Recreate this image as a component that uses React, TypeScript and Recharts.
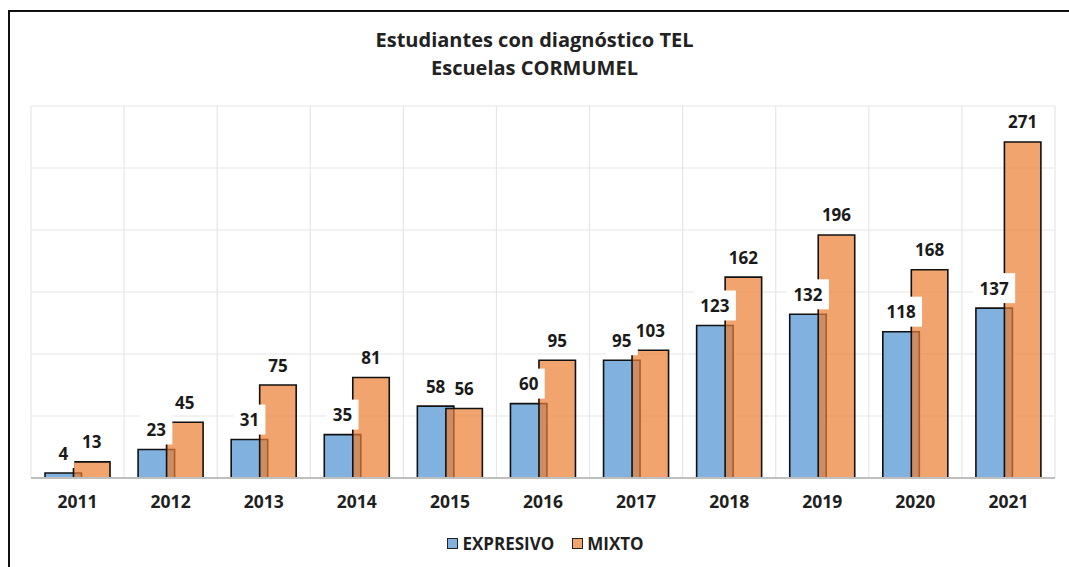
import { BarChart, Bar, XAxis, YAxis, CartesianGrid, LabelList } from 'recharts'

const years = ['2011', '2012', '2013', '2014', '2015', '2016', '2017', '2018', '2019', '2020', '2021']
const expresivo = [4, 23, 31, 35, 58, 60, 95, 123, 132, 118, 137]
const mixto = [13, 45, 75, 81, 56, 95, 103, 162, 196, 168, 271]
const yTicks = [0, 50, 100, 150, 200, 250, 300]
const gridTicks = [0, 1, 2, 3, 4, 5, 6, 7, 8, 9, 10, 11]

const seriesNames = { expresivo: 'EXPRESIVO', mixto: 'MIXTO' }
const BLUE = '#80B1DF'
const ORANGE = '#ED7D31'
const FONT = '"Open Sans", sans-serif'

const data = years.map((year, i) => ({ year, idx: i + 0.5, expresivo: expresivo[i], mixto: mixto[i] }))

// value label; the blue series gets a white box behind it (it sits over the orange bar)
function makeLabel(boxed: boolean) {
  return function ValueLabel(props: any) {
    const { x, y, width, value } = props
    const cx = x + width / 2
    const w = String(value).length * 10 + 12
    return (
      <g>
        {boxed && <rect x={cx - w / 2} y={y - 35} width={w} height={30} fill="#fff" />}
        <text x={cx} y={y - 20} textAnchor="middle" dominantBaseline="central" fontFamily={FONT} fontWeight={700} fontSize={17} fill="#1a1a1a">
          {value}
        </text>
      </g>
    )
  }
}
const BlueLabel = makeLabel(true)
const OrangeLabel = makeLabel(false)

function LegendBox({ color, opacity, label }: { color: string; opacity: number; label: string }) {
  return (
    <span style={{ display: 'inline-flex', alignItems: 'center', margin: '0 9px' }}>
      <span style={{ width: 9, height: 9, border: '1.5px solid #222', position: 'relative', marginRight: 4, background: '#fff' }}>
        <span style={{ position: 'absolute', inset: 0, background: color, opacity }} />
      </span>
      {label}
    </span>
  )
}

export default function App() {
  return (
    <div style={{ position: 'absolute', left: 0, top: 0, width: 1069, height: 567, background: '#fff', overflow: 'hidden', fontFamily: FONT }}>
      <div style={{ position: 'absolute', left: 8, top: 10, width: 1100, height: 600, borderLeft: '2px solid #111', borderTop: '2px solid #111' }} />
      <div style={{ position: 'absolute', left: 0, width: 1069, top: 26, textAlign: 'center', fontWeight: 700, fontSize: 20, lineHeight: '28px', color: '#222' }}>
        Estudiantes con diagnóstico TEL
        <br />
        Escuelas CORMUMEL
      </div>
      <div style={{ position: 'absolute', left: 0, top: 0 }}>
        <BarChart width={1069} height={567} data={data} margin={{ top: 106, right: 14, left: 31, bottom: 59 }} barSize={36.5} barGap={-8}>
          <CartesianGrid xAxisId="grid" stroke="#E6E6E6" strokeWidth={1.2} />
          <XAxis xAxisId="grid" dataKey="idx" type="number" domain={[0, 11]} ticks={gridTicks} hide />
          <XAxis
            dataKey="year"
            height={30}
            tickLine={false}
            axisLine={{ stroke: '#BFBFBF', strokeWidth: 2 }}
            tickMargin={12}
            tick={{ fill: '#1f1f1f', fontFamily: FONT, fontWeight: 700, fontSize: 17.5 }}
          />
          <YAxis hide domain={[0, 300]} ticks={yTicks} />
          <Bar dataKey="expresivo" name={seriesNames.expresivo} fill={BLUE} stroke="#111" strokeWidth={1.6} isAnimationActive={false}>
            <LabelList dataKey="expresivo" content={BlueLabel} />
          </Bar>
          <Bar dataKey="mixto" name={seriesNames.mixto} fill={ORANGE} fillOpacity={0.7} stroke="#111" strokeWidth={1.6} isAnimationActive={false}>
            <LabelList dataKey="mixto" content={OrangeLabel} />
          </Bar>
        </BarChart>
      </div>
      <div style={{ position: 'absolute', left: 0, width: 1069, top: 532, display: 'flex', justifyContent: 'center', paddingLeft: 22, boxSizing: 'border-box', fontWeight: 700, fontSize: 17, color: '#1f1f1f' }}>
        <LegendBox color={BLUE} opacity={1} label={seriesNames.expresivo} />
        <LegendBox color={ORANGE} opacity={0.7} label={seriesNames.mixto} />
      </div>
    </div>
  )
}
